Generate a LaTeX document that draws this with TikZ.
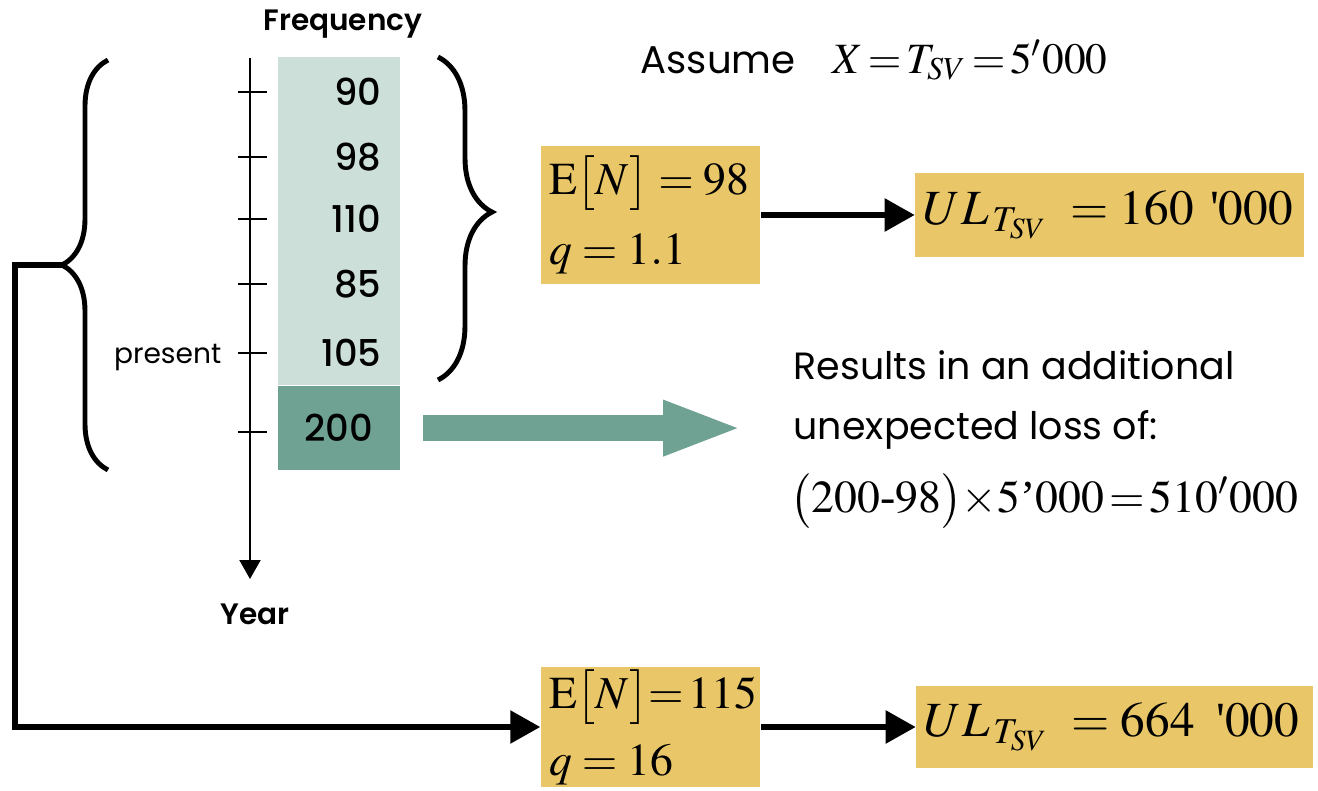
\documentclass[tikz,border=0pt]{standalone}
\usepackage{mathptmx}
\usepackage{fontspec}
\setmainfont{Liberation Serif}
\newfontfamily\gothic{Poppins}
\newfontfamily\gothicmed{Poppins Medium}
\newfontfamily\gothicsemi{Poppins SemiBold}
\usetikzlibrary{arrows.meta,positioning,decorations.pathreplacing}
\definecolor{paleteal}{RGB}{204,223,217}
\definecolor{darkteal}{RGB}{111,162,147}
\definecolor{boxgold}{RGB}{233,199,104}

\begin{document}
\begin{tikzpicture}[
    sans/.style={font=\gothic\fontsize{10.8}{17}\selectfont, inner sep=0pt},
    label/.style={font=\gothicsemi\fontsize{8.4}{10}\selectfont},
    num/.style={font=\gothicmed\fontsize{10.5}{12}\selectfont, anchor=east, inner sep=0pt},
    cell/.style={minimum width=1.22cm, inner sep=0pt},
    gold/.style={fill=boxgold, inner xsep=0.08cm, inner ysep=0pt, align=left},
    link/.style={line width=1.6pt, -{Triangle[length=0.3cm,width=0.32cm]}},
    curly/.style={line width=1.4pt, decorate, decoration={brace, amplitude=#1}}]

  \useasboundingbox (0,0) rectangle (13.18,-7.91);

  % year axis with the frequency column
  \draw[line width=0.6pt, -{Triangle[length=0.19cm,width=0.21cm]}] (2.50,-0.58) -- (2.50,-5.79) coordinate (axisend);
  \node[label, below=0.12cm of axisend, xshift=0.05cm] (year) {Year};
  \node[cell, fill=paleteal, minimum height=3.28cm, anchor=north west] (past) at (2.77,-0.56) {};
  \node[cell, fill=darkteal, minimum height=0.84cm, below=0pt of past, num, anchor=north] (now) {200};
  \node[label] (freq) at (3.43,-0.24) {Frequency};
  \foreach \y/\v in {0.92/90, 1.57/98, 2.19/110, 2.84/85, 3.53/105}
    \node[num] at (3.82,-\y) {\v};
  \foreach \y in {0.92,1.57,2.19,2.84,3.53,4.32}
    \draw[line width=0.6pt] (2.38,-\y) -- (2.67,-\y);
  \node[sans, font=\gothic\fontsize{8}{10}\selectfont, anchor=base east] (present) at (2.22,-3.63) {present};

  % braces round the years
  \draw[curly=0.46cm] (1.08,-4.70) -- (1.08,-0.60);
  \coordinate (hist) at (0.62,-2.65);
  \draw[curly=0.54cm, decoration={aspect=0.48}] (4.38,-0.57) -- (4.38,-3.80);

  % estimates and unexpected losses
  \node[gold, minimum width=2.19cm, minimum height=1.38cm, text width=2.03cm,
        font=\fontsize{13}{16}\selectfont] (est1) at (6.505,-2.15)
        {$\mathrm{E}\bigl[N\bigr] = 98$\\[4pt]$q = 1.1$};
  \node[gold, minimum height=0.83cm, text width=3.73cm, right=1.54cm of est1,
        font=\fontsize{14}{16}\selectfont] (ul1)
        {\mbox{$UL_{\,T_{SV}}\;\;{=}\;160\;\,\mbox{\textquotesingle}000$}};
  \node[gold, minimum width=2.19cm, minimum height=1.20cm, text width=2.03cm,
        font=\fontsize{13}{16}\selectfont] (est2) at (6.505,-7.27)
        {$\mathrm{E}\bigl[N\bigr]{=}\,115$\\[3pt]$q = 16$};
  \node[gold, minimum height=0.82cm, text width=3.81cm, right=1.55cm of est2,
        font=\fontsize{14}{16}\selectfont] (ul2)
        {\mbox{$UL_{\,T_{SV}}\;\;{=}\;664\;\;\mbox{\textquotesingle}000$}};

  \draw[link] (est1) -- (ul1);
  \draw[link] (est2) -- (ul2);
  \draw[link] (hist) -- (0.15,-2.65) |- (est2.west);

  % assumption and the extra loss
  \node[anchor=west, inner sep=0pt] (assume) at (6.40,-0.60)
        {{\gothic\fontsize{11}{14}\selectfont Assume}\hspace{1.05em}{\fontsize{12.3}{16}\selectfont $X{\,=\,}T_{SV}{\,=\,}5'000$}};
  \node[sans, anchor=north west, align=left] (result) at (7.93,-3.50)
        {Results in an additional\\unexpected loss of:};
  \node[anchor=west, inner sep=0pt, font=\fontsize{13}{18}\selectfont] (loss) at (7.90,-5.01)
        {$\bigl(200\mbox{-}98\bigr){\times}5\mbox{’}000{\,=\,}510'000$};
  \draw[darkteal, line width=0.26cm, -{Triangle[length=0.8cm,width=0.5cm]}]
        ([xshift=0.23cm]now.east) -- ([xshift=7.43cm]now.east -| 0,0);
\end{tikzpicture}
\end{document}
